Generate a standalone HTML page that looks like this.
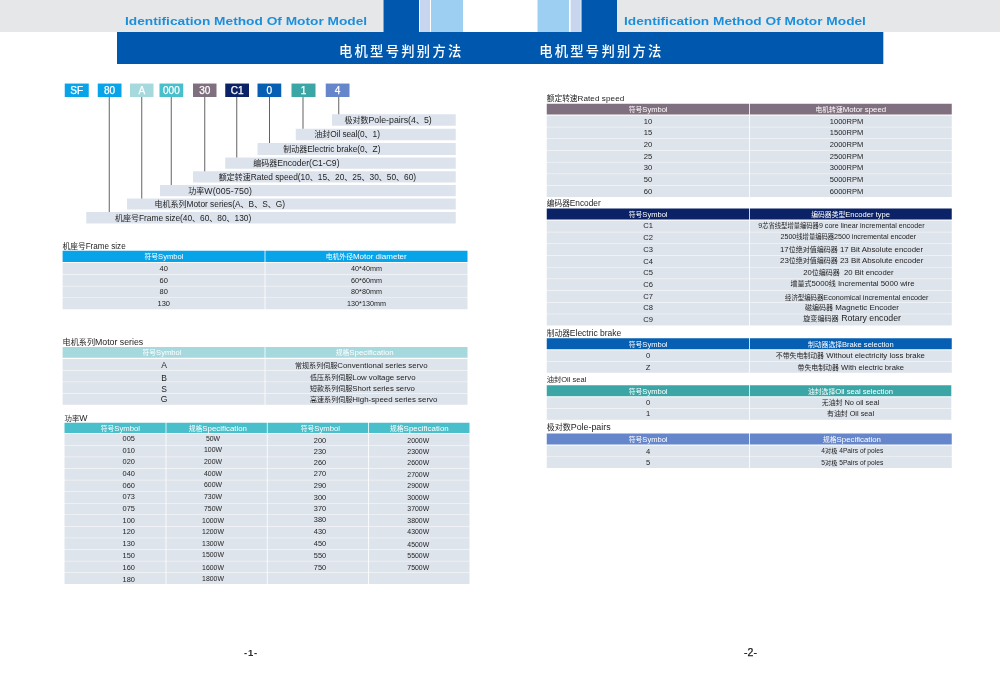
<!DOCTYPE html>
<html lang="zh-CN">
<head>
<meta charset="utf-8">
<title>电机型号判别方法 Identification Method Of Motor Model</title>
<style>
html,body{margin:0;padding:0;background:#fff}
body{width:1000px;height:679px;position:relative;overflow:hidden;font-family:"Liberation Sans","Noto Sans CJK SC",sans-serif;-webkit-font-smoothing:antialiased}
.r{position:absolute}
.t{position:absolute;white-space:pre;line-height:1;margin:0;padding:0}
.c{letter-spacing:0}
svg{position:absolute;left:0;top:0}
</style>
</head>
<body>
<svg width="1000" height="679" viewBox="0 0 1000 679">
<rect x="0" y="0" width="383.5" height="32" fill="#e6e7e9"/>
<rect x="383.5" y="0" width="35.5" height="32" fill="#0058ae"/>
<rect x="420" y="0" width="10" height="32" fill="#c7d6ee"/>
<rect x="431" y="0" width="32" height="32" fill="#9dcff2"/>
<rect x="117" y="32" width="766.3" height="32" fill="#0058ae"/>
<rect x="537.5" y="0" width="31.5" height="32" fill="#9dcff2"/>
<rect x="570.6" y="0" width="10.2" height="32" fill="#c7d6ee"/>
<rect x="581.5" y="0" width="35.5" height="32" fill="#0058ae"/>
<rect x="617" y="0" width="383" height="32" fill="#e6e7e9"/>
<rect x="64.75" y="83.55" width="24" height="13.45" fill="#08a4ea"/>
<rect x="97.75" y="83.55" width="23.75" height="13.45" fill="#08a4ea"/>
<rect x="130" y="83.55" width="23.5" height="13.45" fill="#a6d9de"/>
<rect x="159.5" y="83.55" width="23.75" height="13.45" fill="#48bfcb"/>
<rect x="193" y="83.55" width="23.5" height="13.45" fill="#806f7f"/>
<rect x="225.25" y="83.55" width="23.75" height="13.45" fill="#0b2366"/>
<rect x="257.5" y="83.55" width="23.75" height="13.45" fill="#065fb3"/>
<rect x="291.5" y="83.55" width="24" height="13.45" fill="#3ca6a6"/>
<rect x="325.75" y="83.55" width="23.75" height="13.45" fill="#6686cb"/>
<rect x="332" y="114.25" width="123.75" height="11.5" fill="#dde3ed"/>
<rect x="338.25" y="97" width="1" height="17.25" fill="#636363"/>
<rect x="295.75" y="128.75" width="160" height="11.5" fill="#dde3ed"/>
<rect x="302.5" y="97" width="1" height="31.75" fill="#636363"/>
<rect x="257.5" y="143" width="198.25" height="12" fill="#dde3ed"/>
<rect x="269" y="97" width="1" height="46" fill="#636363"/>
<rect x="225.25" y="157.5" width="230.5" height="11.25" fill="#dde3ed"/>
<rect x="236.25" y="97" width="1" height="60.5" fill="#636363"/>
<rect x="193" y="171.25" width="262.75" height="11.25" fill="#dde3ed"/>
<rect x="204.25" y="97" width="1" height="74.25" fill="#636363"/>
<rect x="160" y="185" width="295.75" height="11.25" fill="#dde3ed"/>
<rect x="170.75" y="97" width="1" height="88" fill="#636363"/>
<rect x="127" y="198.5" width="328.75" height="11" fill="#dde3ed"/>
<rect x="141.25" y="97" width="1" height="101.5" fill="#636363"/>
<rect x="86.25" y="212" width="369.5" height="11.5" fill="#dde3ed"/>
<rect x="108.75" y="97" width="1" height="115" fill="#636363"/>
<rect x="62.6" y="250.75" width="202" height="11.25" fill="#08a4ea"/>
<rect x="62.6" y="263" width="202" height="11.23" fill="#dee4ec"/>
<rect x="62.6" y="274.68" width="202" height="11.23" fill="#dee4ec"/>
<rect x="62.6" y="286.36" width="202" height="11.23" fill="#dee4ec"/>
<rect x="62.6" y="298.04" width="202" height="11.23" fill="#dee4ec"/>
<rect x="265.4" y="250.75" width="202.1" height="11.25" fill="#08a4ea"/>
<rect x="265.4" y="263" width="202.1" height="11.23" fill="#dee4ec"/>
<rect x="265.4" y="274.68" width="202.1" height="11.23" fill="#dee4ec"/>
<rect x="265.4" y="286.36" width="202.1" height="11.23" fill="#dee4ec"/>
<rect x="265.4" y="298.04" width="202.1" height="11.23" fill="#dee4ec"/>
<rect x="62.6" y="347" width="202" height="10.75" fill="#a6d9de"/>
<rect x="62.6" y="359" width="202" height="11.1" fill="#dee4ec"/>
<rect x="62.6" y="370.55" width="202" height="11.1" fill="#dee4ec"/>
<rect x="62.6" y="382.1" width="202" height="11.1" fill="#dee4ec"/>
<rect x="62.6" y="393.65" width="202" height="11.1" fill="#dee4ec"/>
<rect x="265.4" y="347" width="202.1" height="10.75" fill="#a6d9de"/>
<rect x="265.4" y="359" width="202.1" height="11.1" fill="#dee4ec"/>
<rect x="265.4" y="370.55" width="202.1" height="11.1" fill="#dee4ec"/>
<rect x="265.4" y="382.1" width="202.1" height="11.1" fill="#dee4ec"/>
<rect x="265.4" y="393.65" width="202.1" height="11.1" fill="#dee4ec"/>
<rect x="64.5" y="422.75" width="101.1" height="10.25" fill="#48bfcb"/>
<rect x="64.5" y="434" width="101.1" height="11.12" fill="#dee4ec"/>
<rect x="64.5" y="445.57" width="101.1" height="11.12" fill="#dee4ec"/>
<rect x="64.5" y="457.15" width="101.1" height="11.12" fill="#dee4ec"/>
<rect x="64.5" y="468.73" width="101.1" height="11.12" fill="#dee4ec"/>
<rect x="64.5" y="480.3" width="101.1" height="11.12" fill="#dee4ec"/>
<rect x="64.5" y="491.88" width="101.1" height="11.12" fill="#dee4ec"/>
<rect x="64.5" y="503.45" width="101.1" height="11.12" fill="#dee4ec"/>
<rect x="64.5" y="515.02" width="101.1" height="11.12" fill="#dee4ec"/>
<rect x="64.5" y="526.6" width="101.1" height="11.12" fill="#dee4ec"/>
<rect x="64.5" y="538.17" width="101.1" height="11.12" fill="#dee4ec"/>
<rect x="64.5" y="549.75" width="101.1" height="11.12" fill="#dee4ec"/>
<rect x="64.5" y="561.33" width="101.1" height="11.12" fill="#dee4ec"/>
<rect x="64.5" y="572.9" width="101.1" height="11.12" fill="#dee4ec"/>
<rect x="166.4" y="422.75" width="100.45" height="10.25" fill="#48bfcb"/>
<rect x="166.4" y="434" width="100.45" height="11.12" fill="#dee4ec"/>
<rect x="166.4" y="445.57" width="100.45" height="11.12" fill="#dee4ec"/>
<rect x="166.4" y="457.15" width="100.45" height="11.12" fill="#dee4ec"/>
<rect x="166.4" y="468.73" width="100.45" height="11.12" fill="#dee4ec"/>
<rect x="166.4" y="480.3" width="100.45" height="11.12" fill="#dee4ec"/>
<rect x="166.4" y="491.88" width="100.45" height="11.12" fill="#dee4ec"/>
<rect x="166.4" y="503.45" width="100.45" height="11.12" fill="#dee4ec"/>
<rect x="166.4" y="515.02" width="100.45" height="11.12" fill="#dee4ec"/>
<rect x="166.4" y="526.6" width="100.45" height="11.12" fill="#dee4ec"/>
<rect x="166.4" y="538.17" width="100.45" height="11.12" fill="#dee4ec"/>
<rect x="166.4" y="549.75" width="100.45" height="11.12" fill="#dee4ec"/>
<rect x="166.4" y="561.33" width="100.45" height="11.12" fill="#dee4ec"/>
<rect x="166.4" y="572.9" width="100.45" height="11.12" fill="#dee4ec"/>
<rect x="267.65" y="422.75" width="100.45" height="10.25" fill="#48bfcb"/>
<rect x="267.65" y="434" width="100.45" height="11.12" fill="#dee4ec"/>
<rect x="267.65" y="445.57" width="100.45" height="11.12" fill="#dee4ec"/>
<rect x="267.65" y="457.15" width="100.45" height="11.12" fill="#dee4ec"/>
<rect x="267.65" y="468.73" width="100.45" height="11.12" fill="#dee4ec"/>
<rect x="267.65" y="480.3" width="100.45" height="11.12" fill="#dee4ec"/>
<rect x="267.65" y="491.88" width="100.45" height="11.12" fill="#dee4ec"/>
<rect x="267.65" y="503.45" width="100.45" height="11.12" fill="#dee4ec"/>
<rect x="267.65" y="515.02" width="100.45" height="11.12" fill="#dee4ec"/>
<rect x="267.65" y="526.6" width="100.45" height="11.12" fill="#dee4ec"/>
<rect x="267.65" y="538.17" width="100.45" height="11.12" fill="#dee4ec"/>
<rect x="267.65" y="549.75" width="100.45" height="11.12" fill="#dee4ec"/>
<rect x="267.65" y="561.33" width="100.45" height="11.12" fill="#dee4ec"/>
<rect x="267.65" y="572.9" width="100.45" height="11.12" fill="#dee4ec"/>
<rect x="368.9" y="422.75" width="100.6" height="10.25" fill="#48bfcb"/>
<rect x="368.9" y="434" width="100.6" height="11.12" fill="#dee4ec"/>
<rect x="368.9" y="445.57" width="100.6" height="11.12" fill="#dee4ec"/>
<rect x="368.9" y="457.15" width="100.6" height="11.12" fill="#dee4ec"/>
<rect x="368.9" y="468.73" width="100.6" height="11.12" fill="#dee4ec"/>
<rect x="368.9" y="480.3" width="100.6" height="11.12" fill="#dee4ec"/>
<rect x="368.9" y="491.88" width="100.6" height="11.12" fill="#dee4ec"/>
<rect x="368.9" y="503.45" width="100.6" height="11.12" fill="#dee4ec"/>
<rect x="368.9" y="515.02" width="100.6" height="11.12" fill="#dee4ec"/>
<rect x="368.9" y="526.6" width="100.6" height="11.12" fill="#dee4ec"/>
<rect x="368.9" y="538.17" width="100.6" height="11.12" fill="#dee4ec"/>
<rect x="368.9" y="549.75" width="100.6" height="11.12" fill="#dee4ec"/>
<rect x="368.9" y="561.33" width="100.6" height="11.12" fill="#dee4ec"/>
<rect x="368.9" y="572.9" width="100.6" height="11.12" fill="#dee4ec"/>
<rect x="546.75" y="103.75" width="202.35" height="10.75" fill="#806f7f"/>
<rect x="546.75" y="115.6" width="202.35" height="11.25" fill="#dee4ec"/>
<rect x="546.75" y="127.3" width="202.35" height="11.25" fill="#dee4ec"/>
<rect x="546.75" y="139" width="202.35" height="11.25" fill="#dee4ec"/>
<rect x="546.75" y="150.7" width="202.35" height="11.25" fill="#dee4ec"/>
<rect x="546.75" y="162.4" width="202.35" height="11.25" fill="#dee4ec"/>
<rect x="546.75" y="174.1" width="202.35" height="11.25" fill="#dee4ec"/>
<rect x="546.75" y="185.8" width="202.35" height="11.25" fill="#dee4ec"/>
<rect x="749.9" y="103.75" width="201.85" height="10.75" fill="#806f7f"/>
<rect x="749.9" y="115.6" width="201.85" height="11.25" fill="#dee4ec"/>
<rect x="749.9" y="127.3" width="201.85" height="11.25" fill="#dee4ec"/>
<rect x="749.9" y="139" width="201.85" height="11.25" fill="#dee4ec"/>
<rect x="749.9" y="150.7" width="201.85" height="11.25" fill="#dee4ec"/>
<rect x="749.9" y="162.4" width="201.85" height="11.25" fill="#dee4ec"/>
<rect x="749.9" y="174.1" width="201.85" height="11.25" fill="#dee4ec"/>
<rect x="749.9" y="185.8" width="201.85" height="11.25" fill="#dee4ec"/>
<rect x="546.75" y="208.5" width="202.35" height="11" fill="#0b2366"/>
<rect x="546.75" y="220.6" width="202.35" height="11.25" fill="#dee4ec"/>
<rect x="546.75" y="232.3" width="202.35" height="11.25" fill="#dee4ec"/>
<rect x="546.75" y="244" width="202.35" height="11.25" fill="#dee4ec"/>
<rect x="546.75" y="255.7" width="202.35" height="11.25" fill="#dee4ec"/>
<rect x="546.75" y="267.4" width="202.35" height="11.25" fill="#dee4ec"/>
<rect x="546.75" y="279.1" width="202.35" height="11.25" fill="#dee4ec"/>
<rect x="546.75" y="290.8" width="202.35" height="11.25" fill="#dee4ec"/>
<rect x="546.75" y="302.5" width="202.35" height="11.25" fill="#dee4ec"/>
<rect x="546.75" y="314.2" width="202.35" height="11.25" fill="#dee4ec"/>
<rect x="749.9" y="208.5" width="201.85" height="11" fill="#0b2366"/>
<rect x="749.9" y="220.6" width="201.85" height="11.25" fill="#dee4ec"/>
<rect x="749.9" y="232.3" width="201.85" height="11.25" fill="#dee4ec"/>
<rect x="749.9" y="244" width="201.85" height="11.25" fill="#dee4ec"/>
<rect x="749.9" y="255.7" width="201.85" height="11.25" fill="#dee4ec"/>
<rect x="749.9" y="267.4" width="201.85" height="11.25" fill="#dee4ec"/>
<rect x="749.9" y="279.1" width="201.85" height="11.25" fill="#dee4ec"/>
<rect x="749.9" y="290.8" width="201.85" height="11.25" fill="#dee4ec"/>
<rect x="749.9" y="302.5" width="201.85" height="11.25" fill="#dee4ec"/>
<rect x="749.9" y="314.2" width="201.85" height="11.25" fill="#dee4ec"/>
<rect x="546.75" y="338.25" width="202.35" height="11" fill="#065fb3"/>
<rect x="546.75" y="350.3" width="202.35" height="11" fill="#dee4ec"/>
<rect x="546.75" y="361.75" width="202.35" height="11" fill="#dee4ec"/>
<rect x="749.9" y="338.25" width="201.85" height="11" fill="#065fb3"/>
<rect x="749.9" y="350.3" width="201.85" height="11" fill="#dee4ec"/>
<rect x="749.9" y="361.75" width="201.85" height="11" fill="#dee4ec"/>
<rect x="546.75" y="385.25" width="202.35" height="11" fill="#3ca6a6"/>
<rect x="546.75" y="397.3" width="202.35" height="11" fill="#dee4ec"/>
<rect x="546.75" y="408.75" width="202.35" height="11" fill="#dee4ec"/>
<rect x="749.9" y="385.25" width="201.4" height="11" fill="#3ca6a6"/>
<rect x="749.9" y="397.3" width="201.4" height="11" fill="#dee4ec"/>
<rect x="749.9" y="408.75" width="201.4" height="11" fill="#dee4ec"/>
<rect x="546.75" y="433.5" width="202.35" height="11" fill="#6686cb"/>
<rect x="546.75" y="445.6" width="202.35" height="11" fill="#dee4ec"/>
<rect x="546.75" y="457.05" width="202.35" height="11" fill="#dee4ec"/>
<rect x="749.9" y="433.5" width="201.85" height="11" fill="#6686cb"/>
<rect x="749.9" y="445.6" width="201.85" height="11" fill="#dee4ec"/>
<rect x="749.9" y="457.05" width="201.85" height="11" fill="#dee4ec"/>
</svg>
<span class="t" style="left:124.75px;top:16px;font-size:11.8px;color:#1b8fdc;font-weight:bold;transform:scaleX(1.1621);transform-origin:0 50%;">Identification Method Of Motor Model</span>
<span class="t" style="left:623.75px;top:16px;font-size:11.8px;color:#1b8fdc;font-weight:bold;transform:scaleX(1.1609);transform-origin:0 50%;">Identification Method Of Motor Model</span>
<span class="t" style="left:338.9px;top:45px;font-size:13.3px;color:#fff;letter-spacing:2.29px;font-weight:500;">电机型号判别方法</span>
<span class="t" style="left:539.2px;top:45px;font-size:13.3px;color:#fff;letter-spacing:2.26px;font-weight:500;">电机型号判别方法</span>
<span class="t" style="left:70.33px;top:86px;font-size:10.05px;color:#fff;-webkit-text-stroke:.25px #fff;">SF</span>
<span class="t" style="left:104.03px;top:86px;font-size:10.05px;color:#fff;-webkit-text-stroke:.25px #fff;">80</span>
<span class="t" style="left:138.4px;top:86px;font-size:10.05px;color:#fff;-webkit-text-stroke:.25px #fff;">A</span>
<span class="t" style="left:162.99px;top:86px;font-size:10.05px;color:#fff;-webkit-text-stroke:.25px #fff;">000</span>
<span class="t" style="left:199.16px;top:86px;font-size:10.05px;color:#fff;-webkit-text-stroke:.25px #fff;">30</span>
<span class="t" style="left:230.69px;top:86px;font-size:10.05px;color:#fff;-webkit-text-stroke:.25px #fff;">C1</span>
<span class="t" style="left:266.58px;top:86px;font-size:10.05px;color:#fff;-webkit-text-stroke:.25px #fff;">0</span>
<span class="t" style="left:300.7px;top:86px;font-size:10.05px;color:#fff;-webkit-text-stroke:.25px #fff;">1</span>
<span class="t" style="left:334.83px;top:86px;font-size:10.05px;color:#fff;-webkit-text-stroke:.25px #fff;">4</span>
<span class="t" style="left:344.5px;top:116px;font-size:8.8px;color:#1e1e1e;"><span class="c" style="font-size:8px">极对数</span>Pole-pairs(4<span class="c" style="font-size:8px">、</span>5)</span>
<span class="t" style="left:314.25px;top:130px;font-size:8.35px;color:#1e1e1e;letter-spacing:-0.09px;"><span class="c" style="font-size:8px">油封</span>Oil seal(0<span class="c" style="font-size:8px">、</span>1)</span>
<span class="t" style="left:283.25px;top:145px;font-size:8.35px;color:#1e1e1e;letter-spacing:-0.04px;"><span class="c" style="font-size:8px">制动器</span>Electric brake(0<span class="c" style="font-size:8px">、</span>Z)</span>
<span class="t" style="left:253.25px;top:159px;font-size:8.55px;color:#1e1e1e;"><span class="c" style="font-size:8px">编码器</span>Encoder(C1-C9)</span>
<span class="t" style="left:218.75px;top:173px;font-size:8.35px;color:#1e1e1e;letter-spacing:-0.02px;"><span class="c" style="font-size:8px">额定转速</span>Rated speed(10<span class="c" style="font-size:8px">、</span>15<span class="c" style="font-size:8px">、</span>20<span class="c" style="font-size:8px">、</span>25<span class="c" style="font-size:8px">、</span>30<span class="c" style="font-size:8px">、</span>50<span class="c" style="font-size:8px">、</span>60)</span>
<span class="t" style="left:188.25px;top:187px;font-size:8.8px;color:#1e1e1e;letter-spacing:0.14px;"><span class="c" style="font-size:8px">功率</span>W(005-750)</span>
<span class="t" style="left:154.5px;top:200px;font-size:8.35px;color:#1e1e1e;letter-spacing:-0.01px;"><span class="c" style="font-size:8px">电机系列</span>Motor series(A<span class="c" style="font-size:8px">、</span>B<span class="c" style="font-size:8px">、</span>S<span class="c" style="font-size:8px">、</span>G)</span>
<span class="t" style="left:115px;top:214px;font-size:8.35px;color:#1e1e1e;letter-spacing:-0.02px;"><span class="c" style="font-size:8px">机座号</span>Frame size(40<span class="c" style="font-size:8px">、</span>60<span class="c" style="font-size:8px">、</span>80<span class="c" style="font-size:8px">、</span>130)</span>
<span class="t" style="left:62.6px;top:243px;font-size:8.15px;color:#1e1e1e;letter-spacing:-0.02px;"><span class="c" style="font-size:7.7px">机座号</span>Frame size</span>
<span class="t" style="left:144.5px;top:253px;font-size:7.55px;color:#fff;letter-spacing:0px;"><span class="c" style="font-size:6.8px">符号</span>Symbol</span>
<span class="t" style="left:325.75px;top:253px;font-size:8px;color:#fff;"><span class="c" style="font-size:6.8px">电机外径</span>Motor diameter</span>
<span class="t" style="left:159.58px;top:265px;font-size:7.5px;color:#1e1e1e;">40</span>
<span class="t" style="left:351.12px;top:265px;font-size:7.2px;color:#1e1e1e;">40*40mm</span>
<span class="t" style="left:159.58px;top:277px;font-size:7.5px;color:#1e1e1e;">60</span>
<span class="t" style="left:351.12px;top:277px;font-size:7.2px;color:#1e1e1e;">60*60mm</span>
<span class="t" style="left:159.58px;top:288px;font-size:7.5px;color:#1e1e1e;">80</span>
<span class="t" style="left:351.12px;top:288px;font-size:7.2px;color:#1e1e1e;">80*80mm</span>
<span class="t" style="left:157.49px;top:300px;font-size:7.5px;color:#1e1e1e;">130</span>
<span class="t" style="left:347.12px;top:300px;font-size:7.2px;color:#1e1e1e;">130*130mm</span>
<span class="t" style="left:62.6px;top:338px;font-size:8.75px;color:#1e1e1e;letter-spacing:0.01px;"><span class="c" style="font-size:8.1px">电机系列</span>Motor series</span>
<span class="t" style="left:142.5px;top:349px;font-size:7.55px;color:#fff;letter-spacing:0px;"><span class="c" style="font-size:6.8px">符号</span>Symbol</span>
<span class="t" style="left:335.75px;top:349px;font-size:7.85px;color:#fff;letter-spacing:-0.01px;"><span class="c" style="font-size:6.8px">规格</span>Specification</span>
<span class="t" style="left:161.16px;top:361px;font-size:8.5px;color:#1e1e1e;">A</span>
<span class="t" style="left:295px;top:362px;font-size:7.85px;color:#1e1e1e;"><span class="c" style="font-size:7.05px">常规系列伺服</span>Conventional series servo</span>
<span class="t" style="left:161.16px;top:374px;font-size:8.5px;color:#1e1e1e;">B</span>
<span class="t" style="left:310px;top:374px;font-size:7.85px;color:#1e1e1e;"><span class="c" style="font-size:7.05px">低压系列伺服</span>Low voltage servo</span>
<span class="t" style="left:161.16px;top:385px;font-size:8.5px;color:#1e1e1e;">S</span>
<span class="t" style="left:310px;top:385px;font-size:7.8px;color:#1e1e1e;letter-spacing:-0.01px;"><span class="c" style="font-size:7.05px">短款系列伺服</span>Short series servo</span>
<span class="t" style="left:160.69px;top:395px;font-size:8.5px;color:#1e1e1e;">G</span>
<span class="t" style="left:310px;top:396px;font-size:7.9px;color:#1e1e1e;"><span class="c" style="font-size:7.05px">高速系列伺服</span>High-speed series servo</span>
<span class="t" style="left:64.5px;top:414px;font-size:8.7px;color:#1e1e1e;letter-spacing:-0.02px;"><span class="c" style="font-size:7.4px">功率</span>W</span>
<span class="t" style="left:100.75px;top:425px;font-size:7.7px;color:#fff;letter-spacing:0px;"><span class="c" style="font-size:6.8px">符号</span>Symbol</span>
<span class="t" style="left:188.75px;top:425px;font-size:7.85px;color:#fff;letter-spacing:0.01px;"><span class="c" style="font-size:6.8px">规格</span>Specification</span>
<span class="t" style="left:300.75px;top:425px;font-size:7.7px;color:#fff;letter-spacing:0px;"><span class="c" style="font-size:6.8px">符号</span>Symbol</span>
<span class="t" style="left:390px;top:425px;font-size:7.95px;color:#fff;letter-spacing:0.01px;"><span class="c" style="font-size:6.8px">规格</span>Specification</span>
<span class="t" style="left:122.58px;top:435px;font-size:7.4px;color:#1e1e1e;">005</span>
<span class="t" style="left:205.91px;top:436px;font-size:6.9px;color:#1e1e1e;">50W</span>
<span class="t" style="left:122.58px;top:447px;font-size:7.4px;color:#1e1e1e;">010</span>
<span class="t" style="left:203.99px;top:447px;font-size:6.9px;color:#1e1e1e;">100W</span>
<span class="t" style="left:122.58px;top:458px;font-size:7.4px;color:#1e1e1e;">020</span>
<span class="t" style="left:203.99px;top:459px;font-size:6.9px;color:#1e1e1e;">200W</span>
<span class="t" style="left:122.58px;top:470px;font-size:7.4px;color:#1e1e1e;">040</span>
<span class="t" style="left:203.99px;top:471px;font-size:6.9px;color:#1e1e1e;">400W</span>
<span class="t" style="left:122.58px;top:482px;font-size:7.4px;color:#1e1e1e;">060</span>
<span class="t" style="left:203.99px;top:482px;font-size:6.9px;color:#1e1e1e;">600W</span>
<span class="t" style="left:122.58px;top:493px;font-size:7.4px;color:#1e1e1e;">073</span>
<span class="t" style="left:203.99px;top:494px;font-size:6.9px;color:#1e1e1e;">730W</span>
<span class="t" style="left:122.58px;top:505px;font-size:7.4px;color:#1e1e1e;">075</span>
<span class="t" style="left:203.99px;top:506px;font-size:6.9px;color:#1e1e1e;">750W</span>
<span class="t" style="left:122.58px;top:517px;font-size:7.4px;color:#1e1e1e;">100</span>
<span class="t" style="left:202.08px;top:518px;font-size:6.9px;color:#1e1e1e;">1000W</span>
<span class="t" style="left:122.58px;top:528px;font-size:7.4px;color:#1e1e1e;">120</span>
<span class="t" style="left:202.08px;top:529px;font-size:6.9px;color:#1e1e1e;">1200W</span>
<span class="t" style="left:122.58px;top:540px;font-size:7.4px;color:#1e1e1e;">130</span>
<span class="t" style="left:202.08px;top:541px;font-size:6.9px;color:#1e1e1e;">1300W</span>
<span class="t" style="left:122.58px;top:552px;font-size:7.4px;color:#1e1e1e;">150</span>
<span class="t" style="left:202.08px;top:552px;font-size:6.9px;color:#1e1e1e;">1500W</span>
<span class="t" style="left:122.58px;top:564px;font-size:7.4px;color:#1e1e1e;">160</span>
<span class="t" style="left:202.08px;top:565px;font-size:6.9px;color:#1e1e1e;">1600W</span>
<span class="t" style="left:122.58px;top:576px;font-size:7.4px;color:#1e1e1e;">180</span>
<span class="t" style="left:202.08px;top:576px;font-size:6.9px;color:#1e1e1e;">1800W</span>
<span class="t" style="left:313.83px;top:437px;font-size:7.4px;color:#1e1e1e;">200</span>
<span class="t" style="left:407.33px;top:438px;font-size:6.9px;color:#1e1e1e;">2000W</span>
<span class="t" style="left:313.83px;top:448px;font-size:7.4px;color:#1e1e1e;">230</span>
<span class="t" style="left:407.33px;top:449px;font-size:6.9px;color:#1e1e1e;">2300W</span>
<span class="t" style="left:313.83px;top:459px;font-size:7.4px;color:#1e1e1e;">260</span>
<span class="t" style="left:407.33px;top:460px;font-size:6.9px;color:#1e1e1e;">2600W</span>
<span class="t" style="left:313.83px;top:470px;font-size:7.4px;color:#1e1e1e;">270</span>
<span class="t" style="left:407.33px;top:472px;font-size:6.9px;color:#1e1e1e;">2700W</span>
<span class="t" style="left:313.83px;top:482px;font-size:7.4px;color:#1e1e1e;">290</span>
<span class="t" style="left:407.33px;top:483px;font-size:6.9px;color:#1e1e1e;">2900W</span>
<span class="t" style="left:313.83px;top:494px;font-size:7.4px;color:#1e1e1e;">300</span>
<span class="t" style="left:407.33px;top:495px;font-size:6.9px;color:#1e1e1e;">3000W</span>
<span class="t" style="left:313.83px;top:505px;font-size:7.4px;color:#1e1e1e;">370</span>
<span class="t" style="left:407.33px;top:506px;font-size:6.9px;color:#1e1e1e;">3700W</span>
<span class="t" style="left:313.83px;top:516px;font-size:7.4px;color:#1e1e1e;">380</span>
<span class="t" style="left:407.33px;top:518px;font-size:6.9px;color:#1e1e1e;">3800W</span>
<span class="t" style="left:313.83px;top:528px;font-size:7.4px;color:#1e1e1e;">430</span>
<span class="t" style="left:407.33px;top:529px;font-size:6.9px;color:#1e1e1e;">4300W</span>
<span class="t" style="left:313.83px;top:540px;font-size:7.4px;color:#1e1e1e;">450</span>
<span class="t" style="left:407.33px;top:542px;font-size:6.9px;color:#1e1e1e;">4500W</span>
<span class="t" style="left:313.83px;top:552px;font-size:7.4px;color:#1e1e1e;">550</span>
<span class="t" style="left:407.33px;top:553px;font-size:6.9px;color:#1e1e1e;">5500W</span>
<span class="t" style="left:313.83px;top:564px;font-size:7.4px;color:#1e1e1e;">750</span>
<span class="t" style="left:407.33px;top:565px;font-size:6.9px;color:#1e1e1e;">7500W</span>
<span class="t" style="left:546.75px;top:95px;font-size:8.1px;color:#1e1e1e;letter-spacing:0.08px;"><span class="c" style="font-size:7.7px">额定转速</span>Rated speed</span>
<span class="t" style="left:628.75px;top:106px;font-size:7.55px;color:#fff;letter-spacing:0px;"><span class="c" style="font-size:6.8px">符号</span>Symbol</span>
<span class="t" style="left:815.5px;top:106px;font-size:7.85px;color:#fff;letter-spacing:-0.01px;"><span class="c" style="font-size:6.8px">电机转速</span>Motor speed</span>
<span class="t" style="left:643.87px;top:118px;font-size:7.6px;color:#1e1e1e;">10</span>
<span class="t" style="left:829.82px;top:118px;font-size:7.5px;color:#1e1e1e;">1000RPM</span>
<span class="t" style="left:643.87px;top:129px;font-size:7.6px;color:#1e1e1e;">15</span>
<span class="t" style="left:829.82px;top:129px;font-size:7.5px;color:#1e1e1e;">1500RPM</span>
<span class="t" style="left:643.87px;top:141px;font-size:7.6px;color:#1e1e1e;">20</span>
<span class="t" style="left:829.82px;top:141px;font-size:7.5px;color:#1e1e1e;">2000RPM</span>
<span class="t" style="left:643.87px;top:153px;font-size:7.6px;color:#1e1e1e;">25</span>
<span class="t" style="left:829.82px;top:153px;font-size:7.5px;color:#1e1e1e;">2500RPM</span>
<span class="t" style="left:643.87px;top:164px;font-size:7.6px;color:#1e1e1e;">30</span>
<span class="t" style="left:829.82px;top:164px;font-size:7.5px;color:#1e1e1e;">3000RPM</span>
<span class="t" style="left:643.87px;top:176px;font-size:7.6px;color:#1e1e1e;">50</span>
<span class="t" style="left:829.82px;top:176px;font-size:7.5px;color:#1e1e1e;">5000RPM</span>
<span class="t" style="left:643.87px;top:188px;font-size:7.6px;color:#1e1e1e;">60</span>
<span class="t" style="left:829.82px;top:188px;font-size:7.5px;color:#1e1e1e;">6000RPM</span>
<span class="t" style="left:546.75px;top:199px;font-size:8.3px;color:#1e1e1e;"><span class="c" style="font-size:7.7px">编码器</span>Encoder</span>
<span class="t" style="left:628.75px;top:211px;font-size:7.55px;color:#fff;letter-spacing:0px;"><span class="c" style="font-size:6.8px">符号</span>Symbol</span>
<span class="t" style="left:811.25px;top:211px;font-size:7.6px;color:#fff;"><span class="c" style="font-size:6.8px">编码器类型</span>Encoder type</span>
<span class="t" style="left:643.24px;top:222px;font-size:7.6px;color:#1e1e1e;">C1</span>
<span class="t" style="left:758.25px;top:223px;font-size:7.1px;color:#1e1e1e;letter-spacing:0.01px;">9<span class="c" style="font-size:6.3px">芯省线型增量编码器</span>9 core linear incremental encoder</span>
<span class="t" style="left:643.24px;top:234px;font-size:7.6px;color:#1e1e1e;">C2</span>
<span class="t" style="left:780.5px;top:234px;font-size:7.1px;color:#1e1e1e;">2500<span class="c" style="font-size:6.3px">线增量编码器</span>2500 incremental encoder</span>
<span class="t" style="left:643.24px;top:246px;font-size:7.6px;color:#1e1e1e;">C3</span>
<span class="t" style="left:780px;top:246px;font-size:7.85px;color:#1e1e1e;letter-spacing:0.01px;">17<span class="c" style="font-size:7px">位绝对值编码器</span> 17 Bit Absolute encoder</span>
<span class="t" style="left:643.24px;top:258px;font-size:7.6px;color:#1e1e1e;">C4</span>
<span class="t" style="left:780px;top:257px;font-size:7.9px;color:#1e1e1e;letter-spacing:0px;">23<span class="c" style="font-size:7px">位绝对值编码器</span> 23 Bit Absolute encoder</span>
<span class="t" style="left:643.24px;top:269px;font-size:7.6px;color:#1e1e1e;">C5</span>
<span class="t" style="left:803.25px;top:269px;font-size:7.7px;color:#1e1e1e;letter-spacing:-0.01px;">20<span class="c" style="font-size:7px">位编码器</span>  20 Bit encoder</span>
<span class="t" style="left:643.24px;top:281px;font-size:7.6px;color:#1e1e1e;">C6</span>
<span class="t" style="left:790.5px;top:280px;font-size:7.8px;color:#1e1e1e;letter-spacing:-0.01px;"><span class="c" style="font-size:7px">增量式</span>5000<span class="c" style="font-size:7px">线</span> Incremental 5000 wire</span>
<span class="t" style="left:643.24px;top:293px;font-size:7.6px;color:#1e1e1e;">C7</span>
<span class="t" style="left:785px;top:294px;font-size:7.25px;color:#1e1e1e;"><span class="c" style="font-size:6.4px">经济型编码器</span>Economical incremental encoder</span>
<span class="t" style="left:643.24px;top:304px;font-size:7.6px;color:#1e1e1e;">C8</span>
<span class="t" style="left:805px;top:304px;font-size:7.9px;color:#1e1e1e;letter-spacing:0.01px;"><span class="c" style="font-size:7px">磁编码器</span> Magnetic Encoder</span>
<span class="t" style="left:643.24px;top:316px;font-size:7.6px;color:#1e1e1e;">C9</span>
<span class="t" style="left:803.25px;top:314px;font-size:8.75px;color:#1e1e1e;"><span class="c" style="font-size:7.1px">旋变编码器</span> Rotary encoder</span>
<span class="t" style="left:546.75px;top:329px;font-size:8.5px;color:#1e1e1e;letter-spacing:0px;"><span class="c" style="font-size:7.7px">制动器</span>Electric brake</span>
<span class="t" style="left:628.75px;top:341px;font-size:7.55px;color:#fff;letter-spacing:0px;"><span class="c" style="font-size:6.8px">符号</span>Symbol</span>
<span class="t" style="left:808px;top:341px;font-size:7.55px;color:#fff;letter-spacing:0.01px;"><span class="c" style="font-size:6.8px">制动器选择</span>Brake selection</span>
<span class="t" style="left:645.98px;top:352px;font-size:7.6px;color:#1e1e1e;">0</span>
<span class="t" style="left:645.78px;top:364px;font-size:7.6px;color:#1e1e1e;">Z</span>
<span class="t" style="left:775.75px;top:352px;font-size:7.8px;color:#1e1e1e;"><span class="c" style="font-size:6.9px">不带失电制动器</span> Without electricity loss brake</span>
<span class="t" style="left:797.5px;top:364px;font-size:7.65px;color:#1e1e1e;letter-spacing:0.01px;"><span class="c" style="font-size:6.9px">带失电制动器</span> With electric brake</span>
<span class="t" style="left:546.75px;top:376px;font-size:7.5px;color:#1e1e1e;"><span class="c" style="font-size:7.25px">油封</span>Oil seal</span>
<span class="t" style="left:628.75px;top:388px;font-size:7.55px;color:#fff;letter-spacing:0px;"><span class="c" style="font-size:6.8px">符号</span>Symbol</span>
<span class="t" style="left:808px;top:388px;font-size:7.65px;color:#fff;"><span class="c" style="font-size:6.8px">油封选择</span>Oil seal selection</span>
<span class="t" style="left:645.98px;top:399px;font-size:7.6px;color:#1e1e1e;">0</span>
<span class="t" style="left:645.98px;top:410px;font-size:7.6px;color:#1e1e1e;">1</span>
<span class="t" style="left:821.75px;top:399px;font-size:7.45px;color:#1e1e1e;"><span class="c" style="font-size:6.9px">无油封</span> No oil seal</span>
<span class="t" style="left:827px;top:410px;font-size:7.3px;color:#1e1e1e;"><span class="c" style="font-size:6.9px">有油封</span> Oil seal</span>
<span class="t" style="left:546.75px;top:423px;font-size:8.9px;color:#1e1e1e;letter-spacing:-0.01px;"><span class="c" style="font-size:8px">极对数</span>Pole-pairs</span>
<span class="t" style="left:628.75px;top:436px;font-size:7.55px;color:#fff;letter-spacing:0px;"><span class="c" style="font-size:6.8px">符号</span>Symbol</span>
<span class="t" style="left:823px;top:436px;font-size:7.85px;color:#fff;letter-spacing:-0.01px;"><span class="c" style="font-size:6.8px">规格</span>Specification</span>
<span class="t" style="left:645.98px;top:448px;font-size:7.6px;color:#1e1e1e;">4</span>
<span class="t" style="left:645.98px;top:459px;font-size:7.6px;color:#1e1e1e;">5</span>
<span class="t" style="left:821.25px;top:448px;font-size:6.65px;color:#1e1e1e;letter-spacing:0.01px;">4<span class="c" style="font-size:6.2px">对极</span> 4Pairs of poles</span>
<span class="t" style="left:821.25px;top:460px;font-size:6.65px;color:#1e1e1e;letter-spacing:0.01px;">5<span class="c" style="font-size:6.2px">对极</span> 5Pairs of poles</span>
<span class="t" style="left:243.9px;top:648px;font-size:9.5px;color:#2a2a2a;letter-spacing:0.84px;font-weight:bold;">-1-</span>
<span class="t" style="left:744px;top:647px;font-size:10.5px;color:#1a1a1a;letter-spacing:0.08px;-webkit-text-stroke:.25px #1a1a1a;">-2-</span>
</body>
</html>
